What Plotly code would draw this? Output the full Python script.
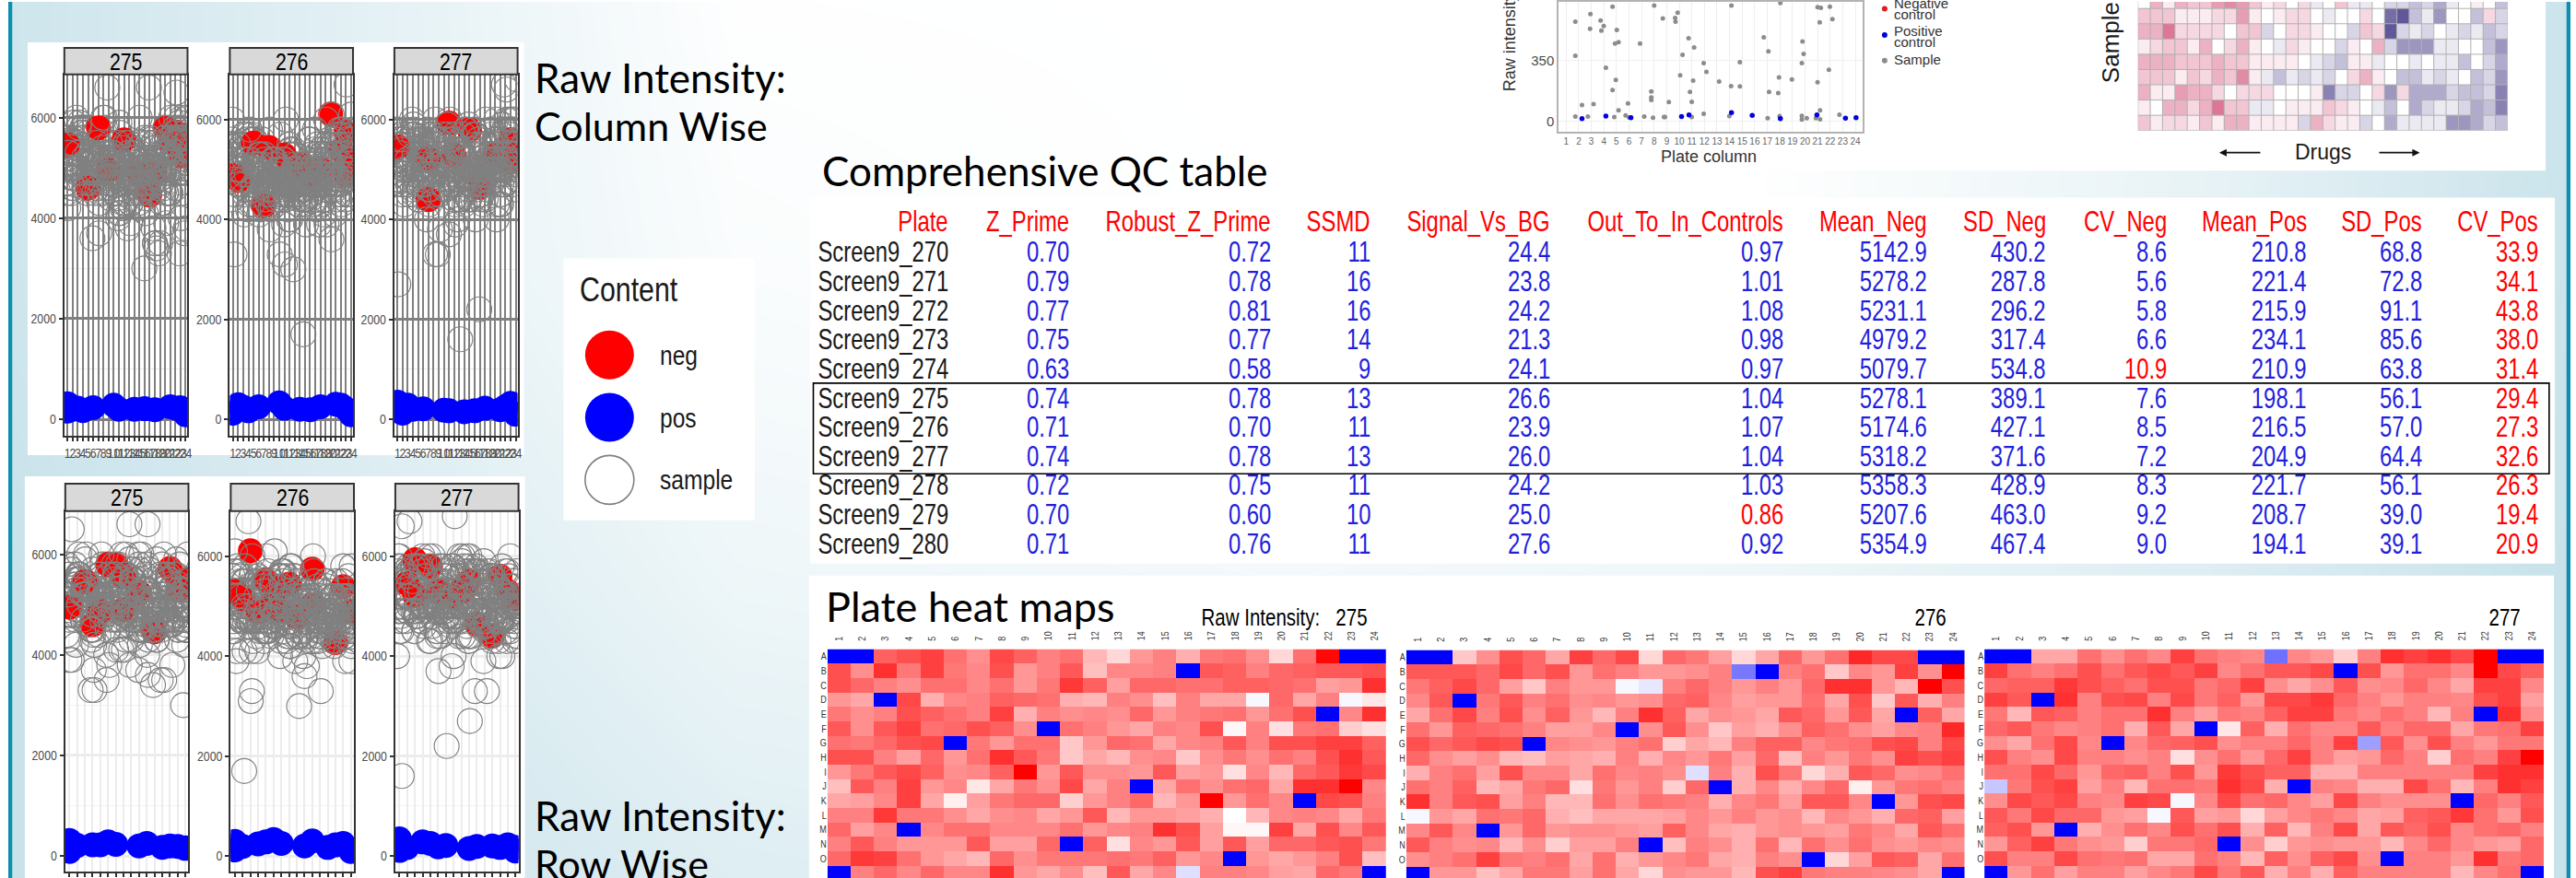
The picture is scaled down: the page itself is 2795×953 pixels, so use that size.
import numpy as np
import plotly.graph_objects as go

W, H = 2795, 953
NARROW = "Liberation Sans, Arial Narrow, sans-serif"
TABLE_FONT = "Liberation Sans, Nimbus Sans Narrow, sans-serif"
ARIAL = "Liberation Sans, Arial, sans-serif"
CAL = "Lato, Carlito, Calibri, sans-serif"

ROW_LETTERS = list("ABCDEFGHIJKLMNOP")
COLUMNS = list(range(1, 25))

# Plate intensities in hundreds, rows A-P, columns 1-24 (2 marks a positive control well)
PLATE_275 = [
 [2,2,54,56,58,52,48,57,54,50,52,43,39,47,50,44,51,52,48,39,52,65,2,2],
 [56,48,60,51,58,51,49,56,47,50,55,42,49,49,50,2,55,54,50,53,54,55,55,56],
 [56,53,50,48,52,52,49,52,47,51,59,54,46,53,53,52,52,54,54,53,52,46,47,60],
 [47,45,2,57,44,49,50,54,53,52,44,43,50,48,42,50,45,45,33,53,45,50,33,37],
 [51,48,50,56,54,52,50,58,44,50,48,49,48,53,47,50,51,52,47,52,56,2,49,60],
 [55,48,55,58,52,53,56,54,48,2,52,50,47,45,50,49,56,35,50,38,51,52,40,38],
 [52,51,53,56,57,2,51,47,52,52,41,47,53,52,45,49,50,55,50,56,56,58,58,54],
 [56,56,50,46,53,47,52,60,55,51,41,45,43,48,49,41,48,51,48,52,50,56,60,55],
 [47,51,55,57,54,48,49,54,66,47,55,48,48,47,55,46,47,38,49,43,53,55,59,57],
 [42,55,50,58,47,49,37,45,51,48,57,45,50,2,45,52,48,52,53,45,60,60,67,49],
 [45,46,49,58,45,36,46,51,53,53,40,47,50,53,43,47,66,47,52,49,2,57,56,50],
 [50,50,59,51,51,48,45,48,49,45,47,55,43,47,47,46,44,34,43,49,50,49,45,51],
 [53,46,49,2,49,52,52,49,49,49,52,47,49,50,60,56,46,35,35,58,45,56,49,55],
 [50,55,50,47,47,47,55,46,46,53,2,54,38,49,47,55,46,55,46,53,53,55,56,51],
 [53,59,58,52,47,45,43,53,48,51,51,51,52,51,54,47,49,2,47,45,47,50,56,42],
 [2,50,53,49,53,49,49,60,47,45,48,42,55,45,49,30,50,50,49,46,45,53,51,2],
]
PLATE_276 = [
 [2,2,41,48,56,53,45,58,53,57,39,53,51,46,39,45,53,47,52,61,57,57,2,2],
 [55,55,55,53,57,53,56,47,52,50,47,47,48,50,17,2,50,52,41,49,47,58,48,66],
 [51,54,57,53,46,41,50,47,47,33,31,50,53,50,47,50,47,53,60,60,47,43,67,56],
 [49,55,2,51,55,50,52,48,49,47,48,53,54,49,46,47,47,52,45,56,41,55,44,50],
 [45,52,57,50,56,48,54,47,43,50,60,54,45,48,47,45,55,53,47,55,45,2,54,45],
 [52,47,54,53,52,50,46,46,49,2,48,55,48,41,46,44,48,54,52,48,46,49,50,61],
 [56,53,55,57,56,2,49,48,47,50,52,40,45,43,50,54,54,49,51,52,56,57,50,57],
 [53,48,46,48,43,42,46,45,44,50,44,49,47,51,46,53,42,50,47,51,48,58,56,58],
 [44,50,52,46,56,49,49,45,52,49,50,48,30,50,44,56,51,39,44,55,53,48,49,52],
 [52,50,54,43,45,51,53,38,51,47,50,40,53,2,44,49,44,49,53,36,47,51,52,50],
 [60,50,55,56,46,50,43,43,52,48,52,51,50,44,49,51,46,55,55,49,2,47,56,57],
 [33,47,45,52,51,53,44,42,45,45,45,46,49,47,50,47,48,43,49,47,44,53,54,46],
 [49,55,49,2,47,53,47,48,48,47,46,54,49,45,44,47,48,47,46,51,49,45,55,52],
 [55,50,48,49,43,48,40,46,46,50,2,42,50,48,44,52,43,52,48,52,48,47,49,48],
 [48,50,52,58,51,50,52,45,52,44,47,49,51,45,44,50,48,2,39,46,55,54,45,52],
 [2,47,47,42,45,51,51,46,52,45,39,48,47,47,43,56,58,51,50,50,49,48,45,2],
]
PLATE_277 = [
 [2,2,45,45,52,48,52,49,58,52,50,49,16,49,47,40,50,60,58,60,57,66,2,2],
 [58,52,50,52,56,52,55,57,55,58,49,52,55,55,57,2,56,47,52,52,49,67,57,54],
 [53,54,54,59,56,54,52,56,56,51,53,58,48,45,48,55,48,49,53,49,45,58,58,49],
 [58,55,2,60,50,56,57,50,57,51,54,47,57,57,59,53,50,47,50,50,49,56,58,46],
 [51,43,55,54,50,52,52,60,50,46,51,50,54,58,58,51,49,52,50,43,50,2,60,48],
 [53,55,51,49,50,52,44,55,45,2,37,54,44,52,49,49,55,50,53,53,45,51,52,58],
 [48,45,52,57,49,2,49,53,54,56,48,50,50,53,50,58,22,55,48,56,50,47,51,51],
 [56,50,48,57,50,50,48,50,38,48,52,47,53,58,50,46,47,53,50,40,52,50,58,68],
 [52,52,57,53,47,53,54,50,56,47,59,56,54,54,44,44,50,50,50,50,50,58,60,60],
 [27,51,56,58,46,50,43,52,52,51,60,57,44,2,50,49,44,44,57,52,43,50,60,58],
 [48,57,55,57,50,49,58,57,33,49,57,52,53,49,46,57,50,48,48,48,2,53,50,55],
 [55,51,57,53,53,47,46,33,55,46,47,39,46,49,51,49,45,46,54,55,59,52,47,56],
 [54,56,47,2,44,48,52,49,56,52,56,44,54,43,50,57,45,55,53,56,49,52,53,50],
 [47,54,58,51,48,47,40,51,51,53,2,48,40,47,48,47,47,43,49,53,49,47,46,53],
 [56,50,50,57,52,51,52,45,45,52,50,43,54,48,54,57,48,2,50,50,47,60,51,53],
 [2,47,52,46,50,50,46,49,51,57,51,55,44,50,44,54,50,50,50,50,43,49,52,2],
]

# Positive-control intensity, in row-major well order
POS_275 = [310,200,230,90,210,220,220,280,230,200,250,170,200,190,160,150]
POS_276 = [130,290,210,120,190,240,280,330,250,200,300,170,220,250,120,90]
POS_277 = [340,120,320,110,170,280,250,180,210,150,190,200,170,220,170,100]

# Negative-control wells
NEG_275_ROW = [1,3,4,5,6,7,8,8,10,12,14,15,16,15]
NEG_275_COL = [9,1,5,15,20,7,18,12,23,17,22,21,23,24]
NEG_275_Y = [4950,5460,4600,4870,5800,5800,4900,5560,5240,4460,5720,5520,5500,5300]
NEG_276_ROW = [3,11,14,15,1,2,4,6,7,9,11,16,5,8]
NEG_276_COL = [20,23,7,22,11,24,1,14,16,2,18,23,5,8]
NEG_276_Y = [6110,5740,4270,5390,5290,5150,4880,5100,4900,4780,5020,4900,5530,5440]
NEG_277_ROW = [3,5,3,6,8,10,11,13,14,15,16,2,9]
NEG_277_COL = [11,15,7,12,22,24,17,7,23,24,23,1,20]
NEG_277_Y = [5930,5790,5220,5290,5200,5500,4640,4400,5600,5300,5150,5450,5300]

# Well placement offsets
JITTER_BY_ROW = [0.2,-0.3,0.1,-0.2,0.3,0.0,-0.1,0.25,-0.25,0.15,-0.15,0.3,0.05,-0.3,0.2,-0.05]
JITTER_BY_COL = [0.1,-0.2,0.25,0.0,-0.3,0.15,-0.1,0.3,-0.25,0.2,0.05,-0.15,0.3,-0.05,0.2,-0.3,
                 0.1,-0.2,0.25,0.0,-0.1,0.3,-0.25,0.15]

# QC table
TABLE_HEAD = ["Plate","Z_Prime","Robust_Z_Prime","SSMD","Signal_Vs_BG","Out_To_In_Controls",
              "Mean_Neg","SD_Neg","CV_Neg","Mean_Pos","SD_Pos","CV_Pos"]
PLATE_NAMES = ["Screen9_270","Screen9_271","Screen9_272","Screen9_273","Screen9_274","Screen9_275",
               "Screen9_276","Screen9_277","Screen9_278","Screen9_279","Screen9_280"]
Z_PRIME = ["0.70","0.79","0.77","0.75","0.63","0.74","0.71","0.74","0.72","0.70","0.71"]
ROBUST_Z = ["0.72","0.78","0.81","0.77","0.58","0.78","0.70","0.78","0.75","0.60","0.76"]
SSMD = ["11","16","16","14","9","13","11","13","11","10","11"]
SIGNAL_BG = ["24.4","23.8","24.2","21.3","24.1","26.6","23.9","26.0","24.2","25.0","27.6"]
OUT_IN = ["0.97","1.01","1.08","0.98","0.97","1.04","1.07","1.04","1.03","0.86","0.92"]
MEAN_NEG = ["5142.9","5278.2","5231.1","4979.2","5079.7","5278.1","5174.6","5318.2","5358.3","5207.6","5354.9"]
SD_NEG = ["430.2","287.8","296.2","317.4","534.8","389.1","427.1","371.6","428.9","463.0","467.4"]
CV_NEG = ["8.6","5.6","5.8","6.6","10.9","7.6","8.5","7.2","8.3","9.2","9.0"]
MEAN_POS = ["210.8","221.4","215.9","234.1","210.9","198.1","216.5","204.9","221.7","208.7","194.1"]
SD_POS = ["68.8","72.8","91.1","85.6","63.8","56.1","57.0","64.4","56.1","39.0","39.1"]
CV_POS = ["33.9","34.1","43.8","38.0","31.4","29.4","27.3","32.6","26.3","19.4","20.9"]
TABLE_COLS = [PLATE_NAMES,Z_PRIME,ROBUST_Z,SSMD,SIGNAL_BG,OUT_IN,MEAN_NEG,SD_NEG,CV_NEG,MEAN_POS,SD_POS,CV_POS]

# Plate-column scatter at the top (cut by the picture edge)
SAMPLE_COL = [1.73,1.73,1.73,2.26,2.73,2.93,2.9,3.18,3.74,3.8,3.99,4.16,4.69,4.69,4.83,4.89,5.03,5.17,4.95,5.17,
              5.73,5.92,6.0,6.15,6.88,7.21,7.91,7.77,7.77,7.77,8.0,8.69,8.78,8.86,9.17,9.67,9.7,9.87,10.26,10.07,
              10.74,10.85,10.99,10.99,11.18,11.1,11.94,11.94,12.16,13.17,13.98,14.12,14.15,14.82,14.82,16.72,17.09,
              17.14,17.03,17.87,17.93,18.04,17.98,18.96,19.75,19.8,19.89,19.75,19.75,20.14,20.87,21.0,21.0,21.26,
              21.2,21.17,21.2,21.9,21.98,22.18,22.74]
SAMPLE_VAL = [575,378,28,94,28,619,534,99,582,523,550,309,661,180,25,449,527,456,239,64,
              34,103,23,23,449,28,21,173,138,124,668,594,25,25,111,596,575,626,384,265,
              479,170,25,113,426,235,336,44,285,230,30,203,668,341,202,484,403,
              170,19,163,253,682,30,242,336,461,389,32,11,19,19,225,658,654,
              64,571,12,297,661,590,39]
POS_COL = [2.26,4.16,6.15,10.18,10.77,14.15,15.8,18.04,20.95,23.22,24.06]
POS_VAL = [16,30,21,28,37,50,34,16,37,19,21]

# Sample by drug heat map at the top right (-10 pink ... 10 purple)
DRUG_Z = [
 [0,-4,-1,-4,-3,-3,-5,-6,-5,-3,-1,-2,0,-2,1,0,-3,1,1,0,2,2,3,2,4,1,0,-1,0,3],
 [-3,-3,-3,-1,-1,-1,-2,-2,-5,-1,0,-1,-2,-2,0,1,0,0,-2,0,7,8,3,1,5,0,0,3,-2,2],
 [-4,-4,-7,-2,-2,-2,-2,0,-3,-3,2,0,-2,-2,-1,0,0,2,-3,-2,8,2,1,2,0,1,2,1,3,2],
 [-1,-2,-3,-3,-1,-4,0,-2,-4,-1,0,1,-2,-1,0,0,2,-1,0,-4,2,5,5,5,1,1,0,0,3,5],
 [-4,-4,-4,-3,-3,-3,-4,-3,-3,-1,-1,-1,-1,0,1,2,3,-1,-1,1,0,0,1,0,1,1,3,0,2,4],
 [-3,-3,-3,-1,-3,-2,-4,-3,-6,-1,1,3,1,2,1,2,0,-2,-4,-1,0,3,3,1,2,1,0,3,2,5],
 [-4,-1,-1,-5,-4,-4,-2,0,-2,-2,-2,0,0,0,-1,6,2,2,0,-2,5,-2,4,4,4,2,3,3,2,6],
 [-1,0,-4,-4,-2,-4,-7,-3,-3,1,1,0,-1,-1,-1,-3,-2,-1,0,1,3,0,4,2,1,1,2,4,3,6],
 [-3,-1,-2,-2,-1,-3,-1,-4,-4,-1,-1,-1,-1,2,-4,-2,-1,-1,2,0,4,1,1,1,1,5,5,4,2,3],
]

# Background wash: 0 white ... 1 pale blue
BG_X = [0,400,800,1400,1900,2400,2795]
BG_Y = [0,300,620,953]
BG_Z = [[.9,.5,.02,0,0,.4,.95],
        [.9,.5,.1,0,0,.45,.95],
        [1,.7,.3,.2,.3,.6,1],
        [1,.9,.6,.5,.6,.8,1]]

fig = go.Figure()
layout = {}
annots = []
shapes = []
axis_n = [0]


def add_axes(x0, y0, x1, y1, xopts, yopts):
    axis_n[0] += 1
    n = axis_n[0]
    sx = "" if n == 1 else str(n)
    layout["xaxis" + sx] = dict(domain=[x0 / W, x1 / W], anchor="y" + sx, **xopts)
    layout["yaxis" + sx] = dict(domain=[1 - y1 / H, 1 - y0 / H], anchor="x" + sx, **yopts)
    return "x" + sx, "y" + sx


def text(x, y, s, size, color="black", font=NARROW, xanchor="center", angle=0):
    annots.append(dict(xref="paper", yref="paper", x=x / W, y=1 - y / H, text=s, showarrow=False,
                       xanchor=xanchor, yanchor="middle", textangle=angle,
                       font=dict(size=size, color=color, family=font)))


# Background layer: wash, white panels, legend keys all share page-pixel axes
hidden = dict(visible=False, showgrid=False, zeroline=False, fixedrange=True)
bx, by = add_axes(0, 0, W, H, dict(range=[0, W], **hidden), dict(range=[H, 0], **hidden))
fig.add_trace(go.Heatmap(x=BG_X, y=BG_Y, z=BG_Z, xaxis=bx, yaxis=by, zsmooth="best", zmin=0, zmax=1,
                         colorscale=[[0, "#ffffff"], [1, "#c8e2ea"]], showscale=False, hoverinfo="skip"))


def band(x0, y0, x1, y1, color):
    fig.add_trace(go.Scatter(x=[x0, x1, x1, x0, x0], y=[y0, y0, y1, y1, y0], mode="lines", fill="toself",
                             fillcolor=color, line=dict(width=0), xaxis=bx, yaxis=by, showlegend=False,
                             hoverinfo="skip"))


band(0, 0, 8, H, "#ffffff")
band(8, 0, 12.3, H, "#0e8fb0")
band(2790.7, 0, W, H, "#0e8fb0")
band(29, 44, 569, 493, "#ffffff")
band(26, 516, 570, H, "#ffffff")
band(612, 279, 820, 564, "#ffffff")
band(880, 213, 2778, 611, "#ffffff")
band(879, 624, 2777, H, "#ffffff")
band(1500, 0, 2768, 183.6, "#ffffff")


def key(x, y, size, color, line=None):
    fig.add_trace(go.Scatter(x=[x], y=[y], mode="markers", xaxis=bx, yaxis=by, showlegend=False, hoverinfo="skip",
                             marker=dict(size=size, color=color, line=line or dict(width=0))))


key(662, 384, 53, "#ff0000")
key(662, 452, 53, "#0000ff")
key(662, 520, 53, "rgba(255,255,255,0)", dict(width=1.6, color="#808080"))
key(2049, 7.5, 6, "#e41a1c")
key(2049, 36, 6, "#0000dd")
key(2049, 64, 6, "#8c8c8c")


def scatter_panel(plate, pos_y, neg_row, neg_col, neg_y, name, x0, y_top, y_bot, y6000, y_zero, by_col, strip_top):
    x1 = x0 + 134
    z = np.array(plate, dtype=float)
    per = 6000 / (y_zero - y6000)
    yr = [-(y_bot - y_zero) * per, (y_zero - y_top) * per]
    if by_col:
        xr = [0.39, 24.36]
        tv = COLUMNS
        major, vw = "#808080", 2
        hw = 2.5
        minor = "#ebebeb"
    else:
        xr = [0.465, 16.39]
        tv = list(range(1, 17))
        major, vw = "#ececec", 2
        hw = 2.5
        minor = "#f2f2f2"
    xa, ya = add_axes(x0, y_top, x1, y_bot,
        dict(range=xr, tickmode="array", tickvals=tv, ticktext=[str(v) for v in tv], tickangle=0,
             showticklabels=by_col, ticks="outside", ticklen=4, tickwidth=1.5, tickcolor="#333333",
             gridcolor=major, gridwidth=vw, showgrid=True, zeroline=False, showline=True, linecolor="#333333",
             linewidth=2, mirror=True, fixedrange=True,
             tickfont=dict(family=NARROW, size=15, color="#4d4d4d")),
        dict(range=yr, tickmode="array", tickvals=[0, 2000, 4000, 6000], ticktext=["0", "2000", "4000", "6000"],
             ticks="outside", ticklen=4, tickwidth=1.5, tickcolor="#333333", gridcolor=major, gridwidth=hw,
             zeroline=False, showline=True, linecolor="#333333", linewidth=2, mirror=True, fixedrange=True,
             minor=dict(tickvals=[1000, 3000, 5000], showgrid=True, gridcolor=minor, gridwidth=1, ticks=""),
             tickfont=dict(family=NARROW, size=15, color="#4d4d4d")))
    neg_set = set(zip(neg_row, neg_col))
    under_x, under_y, over_x, over_y, px, py = [], [], [], [], [], []
    k = 0
    for r in range(16):
        for c in range(24):
            xv = (c + 1 + JITTER_BY_ROW[r]) if by_col else (r + 1 + JITTER_BY_COL[c])
            if z[r, c] == 2:
                px.append((c + 1) if by_col else (r + 1))
                py.append(pos_y[k])
                k += 1
            elif (r + 1, c + 1) not in neg_set:
                # plate order: wells later in the plate are painted over the controls
                if r * 7 + c * 5 > 85:
                    over_x.append(xv)
                    over_y.append(z[r, c] * 100)
                else:
                    under_x.append(xv)
                    under_y.append(z[r, c] * 100)
    nx = neg_col if by_col else neg_row
    ring = dict(size=27, color="rgba(255,255,255,0)", line=dict(width=1.15, color="#808080"))
    fig.add_trace(go.Scatter(x=under_x, y=under_y, mode="markers", xaxis=xa, yaxis=ya, showlegend=False,
                             name="sample", marker=ring))
    fig.add_trace(go.Scatter(x=nx, y=neg_y, mode="markers", xaxis=xa, yaxis=ya, showlegend=False, name="neg",
                             marker=dict(size=27, color="#ff0000", line=dict(width=0))))
    fig.add_trace(go.Scatter(x=over_x, y=over_y, mode="markers", xaxis=xa, yaxis=ya, showlegend=False,
                             name="sample", marker=ring))
    fig.add_trace(go.Scatter(x=px, y=py, mode="markers", xaxis=xa, yaxis=ya, showlegend=False, name="pos",
                             marker=dict(size=27, color="#0000ff", line=dict(width=0))))
    shapes.append(dict(type="rect", xref="paper", yref="paper", x0=x0 / W, x1=x1 / W,
                       y0=1 - y_top / H, y1=1 - strip_top / H, fillcolor="#d9d9d9",
                       line=dict(color="#333333", width=2)))
    text((x0 + x1) / 2, (strip_top + y_top) / 2 + 0.5, name, 26)


plates = [(PLATE_275, POS_275, NEG_275_ROW, NEG_275_COL, NEG_275_Y, "275"),
          (PLATE_276, POS_276, NEG_276_ROW, NEG_276_COL, NEG_276_Y, "276"),
          (PLATE_277, POS_277, NEG_277_ROW, NEG_277_COL, NEG_277_Y, "277")]

top_x = [69, 249, 428]
top_6000 = [126, 128, 128]
bot_x = [70, 250, 429]
bot_6000 = [601, 603, 603]
for p, x, y6 in zip(plates, top_x, top_6000):
    scatter_panel(*p, x, 79, 472, y6, 454, True, 50)
for p, x, y6 in zip(plates, bot_x, bot_6000):
    scatter_panel(*p, x, 554, 946, y6, 929, False, 524)

# Plate heat maps
HEAT_SCALE = [[0, "#0000ff"], [0.5, "#ffffff"], [1, "#ff0000"]]
for p, x0, x1, ytop in zip(plates, [899, 1528.6, 2157.5], [1507, 2136, 2766], [704, 705, 704]):
    xa, ya = add_axes(x0, ytop, x1, H,
        dict(range=[0.5, 24.5], side="top", tickmode="array", tickvals=COLUMNS, ticktext=[str(c) for c in COLUMNS],
             tickangle=-90, showgrid=False, zeroline=False, ticks="outside", ticklen=5, tickcolor="rgba(0,0,0,0)",
             fixedrange=True, tickfont=dict(family=NARROW, size=11, color="#333333")),
        dict(range=[(H - ytop) / 15.7 - 0.5, -0.5], tickmode="array", tickvals=list(range(16)),
             ticktext=ROW_LETTERS, showgrid=False, zeroline=False, ticks="", fixedrange=True,
             tickfont=dict(family=NARROW, size=11, color="#333333")))
    fig.add_trace(go.Heatmap(z=np.array(p[0]) * 100, x=COLUMNS, y=list(range(16)), xaxis=xa, yaxis=ya,
                             zmin=200, zmax=6600, colorscale=HEAT_SCALE, showscale=False))

# Top plate-column scatter
xa, ya = add_axes(1694.5, 0, 2025, 141.7,
    dict(range=[0.41, 24.58], tickmode="array", tickvals=COLUMNS, ticktext=[str(c) for c in COLUMNS], tickangle=0,
         showgrid=True, gridcolor="#eeeeee", gridwidth=1, zeroline=False, showline=True, linecolor="#b3b3b3",
         linewidth=2, mirror=True, ticks="", fixedrange=True, tickfont=dict(family=ARIAL, size=10, color="#666666")),
    dict(range=[-62, 689], tickmode="array", tickvals=[0, 350], ticktext=["0", "350"], showgrid=True,
         gridcolor="#f0f0f0", zeroline=False, showline=True, linecolor="#b3b3b3", linewidth=2, mirror=True,
         ticks="", fixedrange=True, tickfont=dict(family=ARIAL, size=15, color="#4d4d4d")))
fig.add_trace(go.Scatter(x=SAMPLE_COL, y=SAMPLE_VAL, mode="markers", xaxis=xa, yaxis=ya, showlegend=False,
                         marker=dict(size=5, color="#8c8c8c")))
fig.add_trace(go.Scatter(x=POS_COL, y=POS_VAL, mode="markers", xaxis=xa, yaxis=ya, showlegend=False,
                         marker=dict(size=5.5, color="#0000dd")))
text(1858, 168, "Plate column", 18, "#333333", ARIAL)
text(1642, 43.5, "Raw intensity", 18, "#333333", ARIAL, angle=-90)
for yy, s in [(2, "Negative"), (13.5, "control"), (32, "Positive"), (44, "control"), (63, "Sample")]:
    text(2057, yy, s, 15, "#333333", ARIAL, xanchor="left")

# Top-right drug heat map
DRUG_SCALE = [[0, "#cf3d68"], [0.5, "#ffffff"], [1, "#3a2e80"]]
xa, ya = add_axes(2324.5, 0, 2726.8, 140,
    dict(range=[-0.5, 29.5], visible=False, fixedrange=True), dict(range=[8.5, 0.066], visible=False, fixedrange=True))
fig.add_trace(go.Heatmap(z=DRUG_Z, xaxis=xa, yaxis=ya, zmin=-10, zmax=10, colorscale=DRUG_SCALE, showscale=False))
gx, gy = [], []
for c in range(31):
    gx += [c - 0.5, c - 0.5, None]
    gy += [0.066, 8.5, None]
for r in range(10):
    gx += [-0.5, 29.5, None]
    gy += [r - 0.5, r - 0.5, None]
fig.add_trace(go.Scatter(x=gx, y=gy, mode="lines", xaxis=xa, yaxis=ya, showlegend=False, hoverinfo="skip",
                         line=dict(color="#b0b0b0", width=1), connectgaps=False))
text(2295, 44, "Sample", 26, "#1a1a1a", ARIAL, angle=-90)
text(2526, 163, "Drugs", 23, "#1a1a1a", ARIAL)
for tip, tail in [(2413, 2459), (2631, 2585.6)]:
    annots.append(dict(xref="paper", yref="paper", x=tip / W, y=1 - 164 / H, ax=tail - tip, ay=0, text="",
                       showarrow=True, arrowhead=2, arrowsize=1, arrowwidth=1.6, arrowcolor="#111111"))

# Large slide captions
text(578, 82, "Raw Intensity:", 44, font=CAL, xanchor="left")
text(578, 135, "Column Wise", 43, font=CAL, xanchor="left")
text(578, 885, "Raw Intensity:", 44, font=CAL, xanchor="left")
text(578, 937, "Row Wise", 43, font=CAL, xanchor="left")
text(891, 183, "Comprehensive QC table", 44, font=CAL, xanchor="left")
text(895.5, 657, "Plate heat maps", 45, font=CAL, xanchor="left")

# Legend text
text(628, 313, "Content", 37, "#1a1a1a", xanchor="left")
text(715, 384, "neg", 30, "#1a1a1a", xanchor="left")
text(715, 452, "pos", 30, "#1a1a1a", xanchor="left")
text(715, 520, "sample", 30, "#1a1a1a", xanchor="left")

# Plate heat map captions
text(1489, 669, "Raw Intensity:&nbsp;&nbsp;&nbsp;275", 25, xanchor="right")
text(2118, 669, "276", 25, xanchor="right")
text(2743, 669, "277", 25, xanchor="right")

# Table
COL_RIGHT = [1033, 1164, 1383, 1492, 1687, 1940.5, 2097, 2227, 2358, 2510, 2636, 2762]
ROW_Y = [272.3, 304.3, 336, 367.3, 399, 431, 462.7, 494.7, 526, 557.7, 590]
for j, (head, col, xr) in enumerate(zip(TABLE_HEAD, TABLE_COLS, COL_RIGHT)):
    text(xr, 238.7, head, 31, "#ff0000", TABLE_FONT, xanchor="right")
    for yy, v in zip(ROW_Y, col):
        color = "#1a1a1a" if j == 0 else "#1f1fdd"
        if head == "CV_Pos" or (head == "CV_Neg" and float(v) > 10) or (head == "Out_To_In_Controls" and float(v) < 0.9):
            color = "#ff0000"
        text(xr, yy, v, 31, color, TABLE_FONT, xanchor="right")
shapes.append(dict(type="rect", xref="paper", yref="paper", x0=883.7 / W, x1=2771.8 / W,
                   y0=1 - 513.3 / H, y1=1 - 414.7 / H, line=dict(color="black", width=1.6)))

fig.update_layout(width=W, height=H, margin=dict(l=0, r=0, t=0, b=0), autosize=False, paper_bgcolor="white",
                  plot_bgcolor="white", showlegend=False, annotations=annots, shapes=shapes, **layout)

# The source panels were squeezed sideways: condense the text set in the narrow families
CONDENSE = """
document.body.style.margin = '0';
var gd = document.querySelector('.js-plotly-plot');
gd.querySelectorAll('svg text').forEach(function (el) {
  var fam = el.style.fontFamily || '';
  var sx = fam.indexOf('Arial Narrow') >= 0 ? 0.82 : (fam.indexOf('Nimbus Sans Narrow') >= 0 ? 0.77 : 0);
  if (!sx) { return; }
  var b = el.getBBox();
  var ax = b.x + b.width / 2;
  var host = el.closest('.annotation');
  if (host) {
    var a = gd.layout.annotations[+host.getAttribute('data-index')];
    if (a.xanchor === 'right') { ax = b.x + b.width; }
    if (a.xanchor === 'left') { ax = b.x; }
  } else if (el.getAttribute('text-anchor') === 'end') {
    ax = b.x + b.width;
  }
  var old = el.getAttribute('transform') || '';
  el.setAttribute('transform', old + ' translate(' + ax + ' 0) scale(' + sx + ' 1) translate(' + (-ax) + ' 0)');
});
"""
fig.write_html("out.html", post_script=CONDENSE, config={"displayModeBar": False})
